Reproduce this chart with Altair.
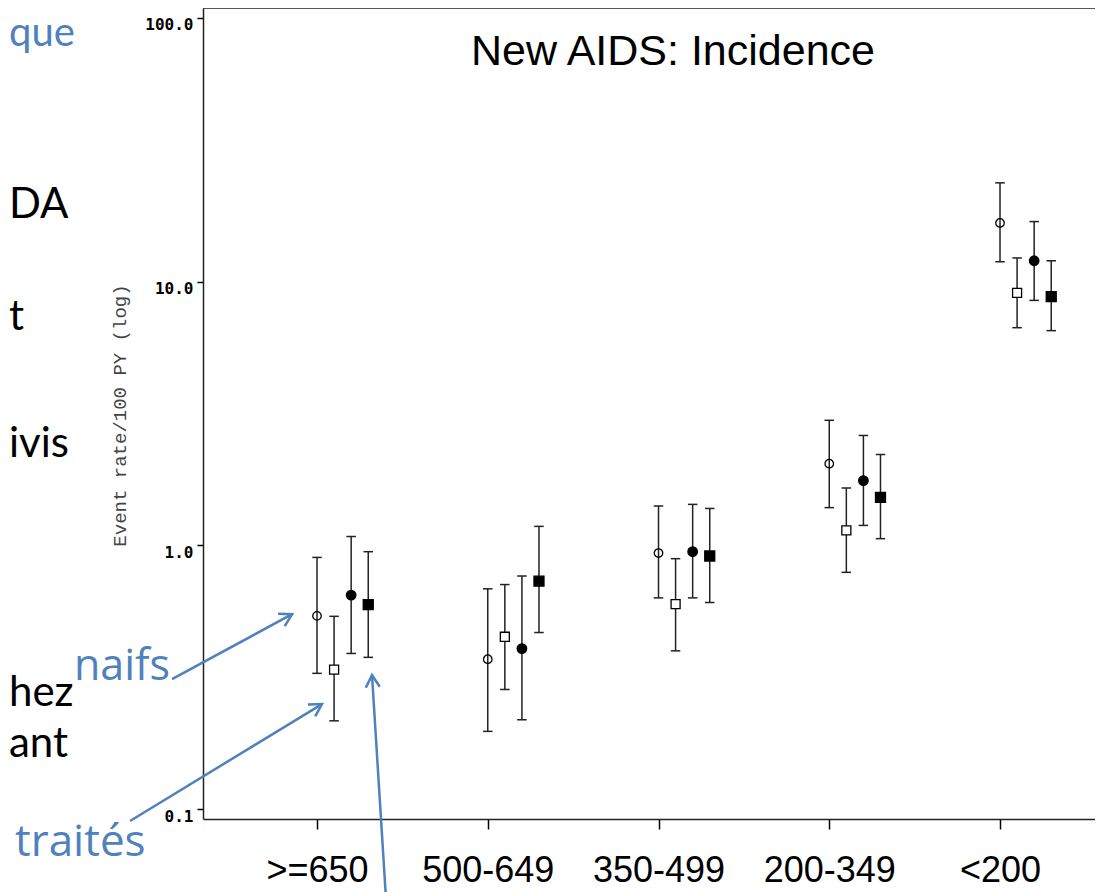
import altair as alt
import pandas as pd

# ---------------- data ----------------
categories = [">=650", "500-649", "350-499", "200-349", "<200"]
series = ["open_circle", "open_square", "filled_circle", "filled_square"]

rate_open_circle = [0.54, 0.37, 0.935, 2.04, 16.7]
lo_open_circle = [0.327, 0.197, 0.632, 1.39, 11.9]
hi_open_circle = [0.90, 0.684, 1.41, 2.98, 23.7]

rate_open_square = [0.338, 0.45, 0.598, 1.14, 9.06]
lo_open_square = [0.216, 0.284, 0.398, 0.79, 6.69]
hi_open_square = [0.538, 0.71, 0.89, 1.65, 12.3]

rate_filled_circle = [0.647, 0.406, 0.946, 1.76, 12.0]
lo_filled_circle = [0.389, 0.218, 0.632, 1.19, 8.49]
hi_filled_circle = [1.08, 0.765, 1.43, 2.61, 16.9]

rate_filled_square = [0.596, 0.731, 0.911, 1.52, 8.77]
lo_filled_square = [0.376, 0.467, 0.607, 1.06, 6.52]
hi_filled_square = [0.946, 1.18, 1.38, 2.21, 12.0]

y_tick_values = [0.1, 1.0, 10.0, 100.0]

# annotation arrows (data coordinates)
arrow_x_start = [0.151, -0.095, 1.404]
arrow_y_start = [0.311, 0.0901, 0.0457]
arrow_x_end = [0.854, 1.029, 1.322]
arrow_y_end = [0.548, 0.250, 0.322]
arrow_angle = [61.5, 58.6, 356.3]

# ---------------- layout / style ----------------
W, H = 892, 811
DODGE = 0.1
XMIN, XMAX = 0.3323, 5.5563
YMIN, YMAX = 0.09165, 109.1
BLUE = "#4F81BD"

rates = [rate_open_circle, rate_open_square, rate_filled_circle, rate_filled_square]
los = [lo_open_circle, lo_open_square, lo_filled_circle, lo_filled_square]
his = [hi_open_circle, hi_open_square, hi_filled_circle, hi_filled_square]

rows = []
for si, s in enumerate(series):
    for gi, c in enumerate(categories):
        rows.append({
            "category": c,
            "series": s,
            "xpos": gi + 1 + DODGE * si,
            "rate": rates[si][gi],
            "lo": los[si][gi],
            "hi": his[si][gi],
        })
df = pd.DataFrame(rows)

xscale = alt.Scale(domain=[XMIN, XMAX], nice=False, zero=False)
yscale = alt.Scale(type="log", domain=[YMIN, YMAX], nice=False)

cats_js = "[" + ",".join("'" + c + "'" for c in categories) + "]"

xaxis = alt.Axis(
    values=list(range(1, len(categories) + 1)),
    labelExpr=f"{cats_js}[round(datum.value) - 1]",
    title=None, grid=False, tickSize=10, tickColor="black", tickWidth=1.5,
    domainColor="#222", domainWidth=1.5,
    labelFont="Liberation Sans", labelFontSize=36, labelColor="black",
    labelPadding=24, labelFlush=False, labelOverlap=False,
)
yaxis = alt.Axis(
    values=y_tick_values, format=".1f", grid=False,
    tickSize=6, tickColor="black", tickWidth=1.5,
    domainColor="#222", domainWidth=1.5,
    labelFont="DejaVu Sans Mono", labelFontWeight="bold", labelFontSize=16,
    labelColor="black", labelBaseline="top", labelOffset=-1, labelPadding=4,
    labelFlush=False, labelOverlap=False,
    title="Event rate/100 PY (log)", titleFont="Liberation Mono",
    titleFontSize=19, titleFontWeight="normal", titleColor="#444",
    titleAngle=270, titleAlign="center", titleBaseline="middle",
    titleX=-84, titleY=407,
)

base = alt.Chart(df)

rules = base.mark_rule(color="#222", strokeWidth=1.5).encode(
    x=alt.X("xpos:Q", scale=xscale, axis=xaxis),
    y=alt.Y("lo:Q", scale=yscale, axis=yaxis),
    y2="hi:Q",
)
cap_shape = "M-1,0L1,0"
caps_lo = base.mark_point(shape=cap_shape, size=90, stroke="#222", strokeWidth=1.5, filled=False, opacity=1).encode(
    x=alt.X("xpos:Q", scale=xscale), y=alt.Y("lo:Q", scale=yscale))
caps_hi = base.mark_point(shape=cap_shape, size=90, stroke="#222", strokeWidth=1.5, filled=False, opacity=1).encode(
    x=alt.X("xpos:Q", scale=xscale), y=alt.Y("hi:Q", scale=yscale))

points = base.mark_point(strokeWidth=1.3, opacity=1).encode(
    x=alt.X("xpos:Q", scale=xscale),
    y=alt.Y("rate:Q", scale=yscale),
    shape=alt.Shape("series:N", scale=alt.Scale(domain=series, range=["circle", "square", "circle", "square"]), legend=None),
    size=alt.Size("series:N", scale=alt.Scale(domain=series, range=[72, 100, 121, 210]), legend=None),
    fill=alt.Fill("series:N", scale=alt.Scale(domain=series, range=["transparent", "white", "black", "black"]), legend=None),
    stroke=alt.value("black"),
)

frame_top = alt.Chart(pd.DataFrame({"x": [XMIN], "x2": [XMAX], "y": [YMAX]})).mark_rule(
    color="#222", strokeWidth=1.5).encode(
    x=alt.X("x:Q", scale=xscale), x2="x2:Q", y=alt.Y("y:Q", scale=yscale))

arrows_df = pd.DataFrame({"x": arrow_x_start, "y": arrow_y_start, "x2": arrow_x_end,
                          "y2": arrow_y_end, "angle": arrow_angle})
arrow_lines = alt.Chart(arrows_df).mark_rule(color=BLUE, strokeWidth=2.5).encode(
    x=alt.X("x:Q", scale=xscale), y=alt.Y("y:Q", scale=yscale), x2="x2:Q", y2="y2:Q")
arrow_heads = alt.Chart(arrows_df).mark_point(
    shape="M-0.5,0.87L0,0L0.5,0.87", size=784, stroke=BLUE, strokeWidth=2.5,
    filled=False, opacity=1).encode(
    x=alt.X("x2:Q", scale=xscale), y=alt.Y("y2:Q", scale=yscale),
    angle=alt.Angle("angle:Q", scale=None))

empty = alt.Data(values=[{}])

def label(text, px, py, size, color="black", align="left", font="Lato"):
    return alt.Chart(empty).mark_text(
        text=text, font=font, fontSize=size, color=color, align=align,
        baseline="alphabetic").encode(x=alt.value(px), y=alt.value(py))

SLIDE_X = -194
texts = [
    label("New AIDS: Incidence", 470, 57, 43, align="center", font="Liberation Sans"),
    label("que", SLIDE_X, 38, 40, color=BLUE),
    label("DA", SLIDE_X, 210, 42),
    label("t", SLIDE_X, 322, 42),
    label("ivis", SLIDE_X, 449, 42),
    label("hez", SLIDE_X, 698, 42),
    label("ant", SLIDE_X, 749, 42),
    label("naifs", -129, 672, 43, color=BLUE, font="Open Sans"),
    label("traités", -188, 848, 44, color=BLUE, font="Open Sans"),
]

chart = alt.layer(
    frame_top, rules, caps_lo, caps_hi, points, arrow_lines, arrow_heads, *texts
).properties(
    width=W, height=H,
    autosize=alt.AutoSizeParams(type="none"),
    padding={"left": 195, "top": 0, "right": 0, "bottom": 73},
    background="white",
).configure_view(stroke=None)

chart.save("out.html", embed_options={"renderer": "svg", "actions": False})
